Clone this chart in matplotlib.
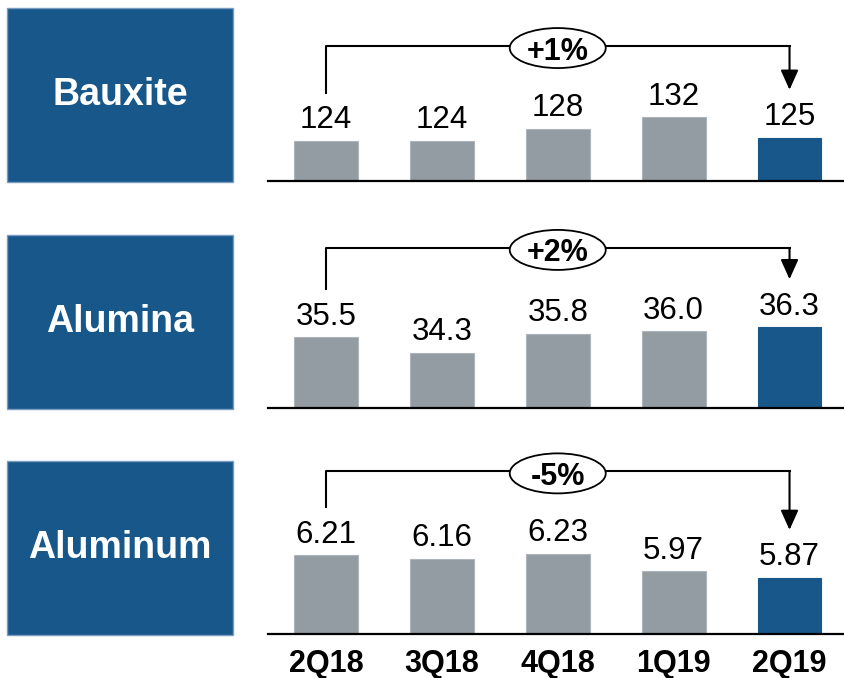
import matplotlib.pyplot as plt
from matplotlib.patches import Rectangle, Ellipse

plt.rcParams["font.family"] = ["Liberation Sans", "DejaVu Sans"]

QUARTERS = ["2Q18", "3Q18", "4Q18", "1Q19", "2Q19"]
SEGMENTS = ["Bauxite", "Alumina", "Aluminum"]
bauxite = [124, 124, 128, 132, 125]
alumina = [35.5, 34.3, 35.8, 36.0, 36.3]
aluminum = [6.21, 6.16, 6.23, 5.97, 5.87]
changes = ["+1%", "+2%", "-5%"]

SERIES = [bauxite, alumina, aluminum]
FMTS = ["{:.0f}", "{:.1f}", "{:.2f}"]
YLIMS = [(110.25, 169.3), (29.95, 43.63), (5.03, 7.62)]

BLUE = "#18578A"
GREY = "#939CA2"

W, H = 844, 678
# rows: (axis baseline px, axis top px)
ROWS = [(181, 8), (408, 234), (634, 461)]
BRACKET_FRAC = [0.78, 0.92, 0.94]
XLIM = (-0.5, 4.47)

fig = plt.figure(figsize=(W / 100, H / 100), dpi=100)

for i, (vals, fmt, ylim, (base, top)) in enumerate(zip(SERIES, FMTS, YLIMS, ROWS)):
    ax_h = base - top
    ax = fig.add_axes([268 / W, (H - base) / H, 576 / W, ax_h / H])
    ax.set_xlim(*XLIM)
    ax.set_ylim(*ylim)
    k = ax_h / (ylim[1] - ylim[0])          # px per y unit
    kx = 576 / (XLIM[1] - XLIM[0])           # px per x unit

    x = range(len(vals))
    colors = [GREY] * (len(vals) - 1) + [BLUE]
    ax.bar(x, [v - ylim[0] for v in vals], bottom=ylim[0], width=0.55,
           color=colors, edgecolor=["#aeb5ba"] * (len(vals) - 1) + [BLUE], linewidth=0.8)
    for xi, v in zip(x, vals):
        ax.annotate(fmt.format(v), (xi, v), xytext=(0, 9), textcoords="offset points",
                    ha="center", va="baseline", fontsize=22.5)

    # bracket from first to last bar
    y0 = vals[0] + 48 / k
    y1 = vals[-1] + 48 / k
    yh = ylim[0] + BRACKET_FRAC[i] * (ylim[1] - ylim[0])
    ax.plot([0, 0, 4], [y0, yh, yh], color="black", lw=1.5, clip_on=False, zorder=3)
    ax.annotate("", xy=(4, y1), xytext=(4, yh),
                arrowprops=dict(arrowstyle="-|>,head_length=1.0,head_width=0.45",
                                mutation_scale=12, lw=1.5, color="black",
                                shrinkA=0, shrinkB=0), annotation_clip=False)
    yc = yh - 2 / k
    ax.add_patch(Ellipse((2, yc), 96 / kx, 40 / k, facecolor="white",
                         edgecolor="black", lw=1.3, zorder=4, clip_on=False))
    ax.text(2, yc, changes[i], ha="center", va="center_baseline", fontsize=22,
            fontweight="bold", zorder=5)

    for s in ["top", "left", "right"]:
        ax.spines[s].set_visible(False)
    ax.spines["bottom"].set_linewidth(1.6)
    ax.spines["bottom"].set_color("black")
    ax.set_yticks([])
    ax.set_xticks(list(x))
    if i == 2:
        ax.set_xticklabels(QUARTERS, fontsize=22, fontweight="bold")
        ax.tick_params(axis="x", length=0, pad=11)
    else:
        ax.set_xticklabels([])
        ax.tick_params(axis="x", length=0)

    # segment label box
    fig.add_artist(Rectangle((7 / W, (H - base - 1) / H), 226 / W, 174 / H,
                             transform=fig.transFigure, facecolor=BLUE,
                             edgecolor="#7a9cc0", lw=1))
    fig.text(120 / W, (H - base - 1 + 87) / H, SEGMENTS[i], ha="center", va="center",
             color="white", fontsize=27, fontweight="bold")

fig.savefig("out.png", dpi=100)
